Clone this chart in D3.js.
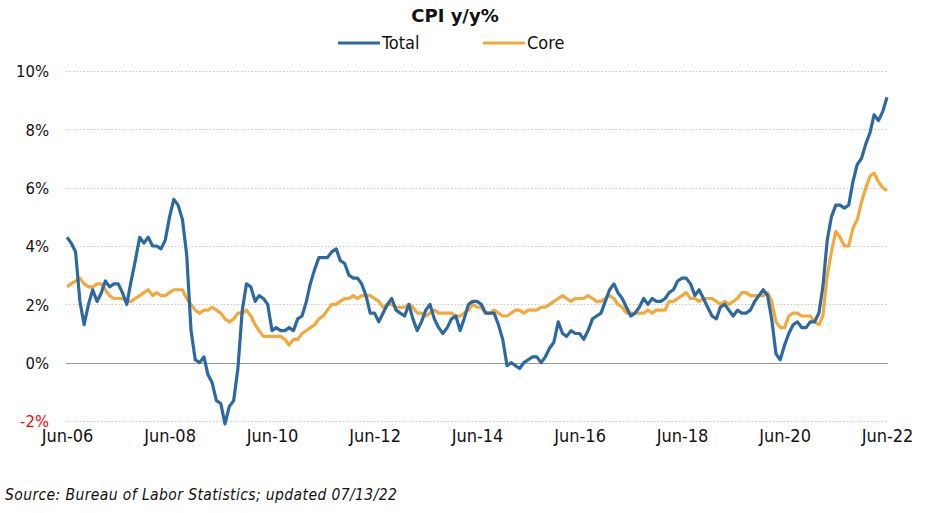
<!DOCTYPE html>
<html>
<head>
<meta charset="utf-8">
<script src="https://cdn.jsdelivr.net/npm/d3@7"></script>
<style>
  html, body { margin: 0; padding: 0; background: #fff; }
  svg { display: block; }
</style>
</head>
<body>
<svg id="chart" width="934" height="513"></svg>
<script>
// Monthly y/y % change, Jun 2006 – Jun 2022
const startMonth = "2006-06";
const totalCPI = [
  4.3, 4.1, 3.8, 2.1, 1.3, 2.0, 2.5,
  2.1, 2.4, 2.8, 2.6, 2.7, 2.7, 2.4, 2.0, 2.8, 3.5, 4.3, 4.1,
  4.3, 4.0, 4.0, 3.9, 4.2, 5.0, 5.6, 5.4, 4.9, 3.7, 1.1, 0.1,
  0.0, 0.2, -0.4, -0.7, -1.3, -1.4, -2.1, -1.5, -1.3, -0.2, 1.8, 2.7,
  2.6, 2.1, 2.3, 2.2, 2.0, 1.1, 1.2, 1.1, 1.1, 1.2, 1.1, 1.5,
  1.6, 2.1, 2.7, 3.2, 3.6, 3.6, 3.6, 3.8, 3.9, 3.5, 3.4, 3.0,
  2.9, 2.9, 2.7, 2.3, 1.7, 1.7, 1.4, 1.7, 2.0, 2.2, 1.8, 1.7,
  1.6, 2.0, 1.5, 1.1, 1.4, 1.8, 2.0, 1.5, 1.2, 1.0, 1.2, 1.5,
  1.6, 1.1, 1.5, 2.0, 2.1, 2.1, 2.0, 1.7, 1.7, 1.7, 1.3, 0.8,
  -0.1, 0.0, -0.1, -0.2, 0.0, 0.1, 0.2, 0.2, 0.0, 0.2, 0.5, 0.7,
  1.4, 1.0, 0.9, 1.1, 1.0, 1.0, 0.8, 1.1, 1.5, 1.6, 1.7, 2.1,
  2.5, 2.7, 2.4, 2.2, 1.9, 1.6, 1.7, 1.9, 2.2, 2.0, 2.2, 2.1,
  2.1, 2.2, 2.4, 2.5, 2.8, 2.9, 2.9, 2.7, 2.3, 2.5, 2.2, 1.9,
  1.6, 1.5, 1.9, 2.0, 1.8, 1.6, 1.8, 1.7, 1.7, 1.8, 2.1, 2.3,
  2.5, 2.3, 1.5, 0.3, 0.1, 0.6, 1.0, 1.3, 1.4, 1.2, 1.2, 1.4,
  1.4, 1.7, 2.6, 4.2, 5.0, 5.4, 5.4, 5.3, 5.4, 6.2, 6.8, 7.0,
  7.5, 7.9, 8.5, 8.3, 8.6, 9.1
];
const coreCPI = [
  2.6, 2.7, 2.8, 2.9, 2.7, 2.6, 2.6,
  2.7, 2.7, 2.5, 2.3, 2.2, 2.2, 2.2, 2.1, 2.1, 2.2, 2.3, 2.4,
  2.5, 2.3, 2.4, 2.3, 2.3, 2.4, 2.5, 2.5, 2.5, 2.2, 2.0, 1.8,
  1.7, 1.8, 1.8, 1.9, 1.8, 1.7, 1.5, 1.4, 1.5, 1.7, 1.7, 1.8,
  1.6, 1.3, 1.1, 0.9, 0.9, 0.9, 0.9, 0.9, 0.8, 0.6, 0.8, 0.8,
  1.0, 1.1, 1.2, 1.3, 1.5, 1.6, 1.8, 2.0, 2.0, 2.1, 2.2, 2.2,
  2.3, 2.2, 2.3, 2.3, 2.3, 2.2, 2.1, 1.9, 2.0, 2.0, 1.9, 1.9,
  1.9, 2.0, 1.9, 1.7, 1.7, 1.6, 1.7, 1.8, 1.7, 1.7, 1.7, 1.7,
  1.6, 1.6, 1.7, 1.8, 2.0, 1.9, 1.9, 1.7, 1.7, 1.8, 1.7, 1.6,
  1.6, 1.7, 1.8, 1.8, 1.7, 1.8, 1.8, 1.8, 1.9, 1.9, 2.0, 2.1,
  2.2, 2.3, 2.2, 2.1, 2.2, 2.2, 2.2, 2.3, 2.2, 2.1, 2.1, 2.2,
  2.3, 2.2, 2.0, 1.9, 1.7, 1.7, 1.7, 1.7, 1.7, 1.8, 1.7, 1.8,
  1.8, 1.8, 2.1, 2.1, 2.2, 2.3, 2.4, 2.2, 2.2, 2.1, 2.2, 2.2,
  2.2, 2.1, 2.0, 2.1, 2.0, 2.1, 2.2, 2.4, 2.4, 2.3, 2.3, 2.3,
  2.3, 2.4, 2.1, 1.4, 1.2, 1.2, 1.6, 1.7, 1.7, 1.6, 1.6, 1.6,
  1.4, 1.3, 1.6, 3.0, 3.8, 4.5, 4.3, 4.0, 4.0, 4.6, 4.9, 5.5,
  6.0, 6.4, 6.5, 6.2, 6.0, 5.9
];
const seriesNames = ["Total", "Core"];
const seriesColors = ["#2d69a1", "#f2a93b"];
const yTicks = [-2, 0, 2, 4, 6, 8, 10];
const xTickLabels = ["Jun-06", "Jun-08", "Jun-10", "Jun-12", "Jun-14", "Jun-16", "Jun-18", "Jun-20", "Jun-22"];
const chartTitle = "CPI y/y%";
const sourceNote = "Source: Bureau of Labor Statistics; updated 07/13/22";

const svg = d3.select("#chart");
const parseMonth = d3.timeParse("%Y-%m");
const start = parseMonth(startMonth);
const dates = totalCPI.map((_, i) => d3.timeMonth.offset(start, i));
const parseTick = d3.timeParse("%b-%y");
const xTickDates = xTickLabels.map(s => parseTick(s));

const condensed = "'DejaVu Sans Condensed', 'DejaVu Sans', sans-serif";

const x = d3.scaleTime().domain([dates[0], dates[dates.length - 1]]).range([67, 887]);
const y = d3.scaleLinear().domain([-2, 10]).range([421, 71]);

// gridlines
const grid = svg.append("g");
grid.selectAll("line").data(yTicks).join("line")
  .attr("x1", 66).attr("x2", 888)
  .attr("y1", d => Math.round(y(d)) + 0.5).attr("y2", d => Math.round(y(d)) + 0.5)
  .attr("stroke", d => d === 0 ? "#9a9a9a" : "#c8c8c8")
  .attr("stroke-width", 1)
  .attr("stroke-dasharray", d => d === 0 ? null : "1.5,2");

// y axis labels
const yAxis = d3.axisLeft(y).tickValues(yTicks).tickSize(0).tickPadding(0)
  .tickFormat(d => d + "%");
const yg = svg.append("g").attr("transform", "translate(49,0)").call(yAxis);
yg.select(".domain").remove();
yg.selectAll("text")
  .attr("font-family", condensed)
  .attr("font-size", 16.5)
  .attr("fill", d => d < 0 ? "#ff0000" : "#111")
  .attr("dy", "0.35em");

// x axis labels
const xAxis = d3.axisBottom(x).tickValues(xTickDates).tickSize(0).tickPadding(0)
  .tickFormat(d3.timeFormat("%b-%y"));
const xg = svg.append("g").attr("transform", "translate(0,429)").call(xAxis);
xg.select(".domain").remove();
xg.selectAll("text")
  .attr("font-family", condensed)
  .attr("font-size", 18)
  .attr("fill", "#111")
  .attr("dy", "0.71em");

// lines (Core first so Total sits on top)
const line = d3.line().x((d, i) => x(dates[i])).y(d => y(d));
[[coreCPI, 1], [totalCPI, 0]].forEach(([data, k]) => {
  svg.append("path")
    .datum(data)
    .attr("fill", "none")
    .attr("stroke", seriesColors[k])
    .attr("stroke-width", 3.2)
    .attr("stroke-linejoin", "round")
    .attr("d", line);
});

// title
svg.append("text")
  .attr("x", 455).attr("y", 22)
  .attr("text-anchor", "middle")
  .attr("font-family", "'DejaVu Sans', sans-serif")
  .attr("font-weight", "bold")
  .attr("font-size", 18)
  .attr("fill", "#111")
  .text(chartTitle);

// legend
const legendX = [338, 483];
const lg = svg.append("g");
seriesNames.forEach((name, k) => {
  lg.append("line")
    .attr("x1", legendX[k]).attr("x2", legendX[k] + 42)
    .attr("y1", 43).attr("y2", 43)
    .attr("stroke", seriesColors[k]).attr("stroke-width", 3.2);
  lg.append("text")
    .attr("x", legendX[k] + 44).attr("y", 43)
    .attr("dy", "0.35em")
    .attr("font-family", condensed)
    .attr("font-size", 18)
    .attr("fill", "#111")
    .text(name);
});

// source
svg.append("text")
  .attr("x", 5).attr("y", 500)
  .attr("font-family", condensed)
  .attr("font-style", "italic")
  .attr("font-size", 15.5)
  .attr("letter-spacing", 0.4)
  .attr("fill", "#111")
  .text(sourceNote);
</script>
</body>
</html>
